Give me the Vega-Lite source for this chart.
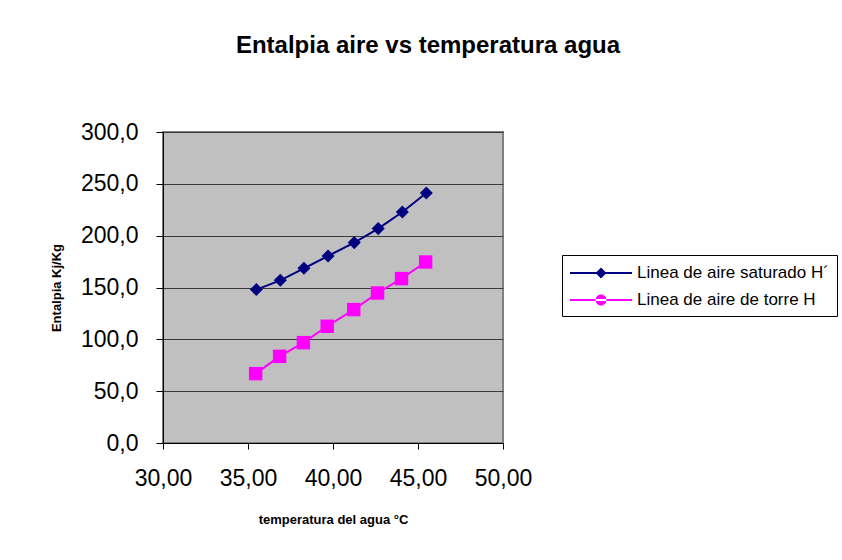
{
  "$schema": "https://vega.github.io/schema/vega-lite/v6.json",
  "width": 340,
  "height": 311,
  "autosize": {"type": "none"},
  "padding": {"left": 163, "top": 132, "right": 339, "bottom": 117},
  "background": "white",
  "title": {
    "text": "Entalpia aire vs temperatura agua",
    "font": "Liberation Sans",
    "fontSize": 24,
    "fontWeight": "bold",
    "color": "black",
    "anchor": "middle",
    "frame": "group",
    "dx": 95,
    "baseline": "alphabetic",
    "offset": 44
  },
  "config": {
    "view": {"fill": "#C0C0C0", "stroke": "#808080", "strokeWidth": 2},
    "font": "Liberation Sans"
  },
  "data": {
    "values": [
      {"serie": "Linea de aire saturado H´", "t": 35.49, "h": 148.0},
      {"serie": "Linea de aire saturado H´", "t": 36.90, "h": 156.9},
      {"serie": "Linea de aire saturado H´", "t": 38.29, "h": 168.5},
      {"serie": "Linea de aire saturado H´", "t": 39.71, "h": 180.4},
      {"serie": "Linea de aire saturado H´", "t": 41.25, "h": 193.3},
      {"serie": "Linea de aire saturado H´", "t": 42.66, "h": 206.8},
      {"serie": "Linea de aire saturado H´", "t": 44.08, "h": 222.8},
      {"serie": "Linea de aire saturado H´", "t": 45.49, "h": 241.1},
      {"serie": "Linea de aire de torre  H", "t": 35.45, "h": 66.9},
      {"serie": "Linea de aire de torre  H", "t": 36.86, "h": 83.6},
      {"serie": "Linea de aire de torre  H", "t": 38.26, "h": 96.8},
      {"serie": "Linea de aire de torre  H", "t": 39.66, "h": 112.6},
      {"serie": "Linea de aire de torre  H", "t": 41.22, "h": 128.7},
      {"serie": "Linea de aire de torre  H", "t": 42.62, "h": 144.7},
      {"serie": "Linea de aire de torre  H", "t": 44.03, "h": 158.6},
      {"serie": "Linea de aire de torre  H", "t": 45.45, "h": 174.6}
    ]
  },
  "encoding": {
    "x": {
      "field": "t",
      "type": "quantitative",
      "scale": {"domain": [30, 50], "nice": false, "zero": false},
      "axis": {
        "title": "temperatura del agua °C",
        "titleFont": "Liberation Sans",
        "titleFontSize": 13,
        "titleFontWeight": "bold",
        "titleColor": "black",
        "titlePadding": 23,
        "values": [30, 35, 40, 45, 50],
        "labelExpr": "replace(format(datum.value, '.2f'), '.', ',')",
        "labelFont": "Liberation Sans",
        "labelFontSize": 23,
        "labelColor": "black",
        "labelPadding": 18,
        "labelFlush": false,
        "labelOverlap": false,
        "tickColor": "black",
        "tickSize": 6,
        "domainColor": "black",
        "domainWidth": 1,
        "grid": false
      }
    },
    "y": {
      "field": "h",
      "type": "quantitative",
      "scale": {"domain": [0, 300], "nice": false},
      "axis": {
        "title": "Entalpia Kj/Kg",
        "titleFont": "Liberation Sans",
        "titleFontSize": 13,
        "titleFontWeight": "bold",
        "titleColor": "black",
        "titlePadding": 17,
        "values": [0, 50, 100, 150, 200, 250, 300],
        "labelExpr": "replace(format(datum.value, '.1f'), '.', ',')",
        "labelFont": "Liberation Sans",
        "labelFontSize": 23,
        "labelColor": "black",
        "labelPadding": 18,
        "labelFlush": false,
        "labelOverlap": false,
        "tickColor": "black",
        "tickSize": 7,
        "domainColor": "black",
        "domainWidth": 1,
        "grid": true,
        "gridColor": "#3a3a3a",
        "gridWidth": 1,
        "gridOpacity": 1
      }
    },
    "color": {
      "field": "serie",
      "type": "nominal",
      "scale": {
        "domain": ["Linea de aire saturado H´", "Linea de aire de torre  H"],
        "range": ["#000080", "#FF00FF"]
      },
      "legend": {
        "title": null,
        "orient": "none",
        "legendX": 399,
        "legendY": 123,
        "direction": "vertical",
        "strokeColor": "black",
        "fillColor": "white",
        "padding": 8,
        "rowPadding": 9,
        "labelFont": "Liberation Sans",
        "labelFontSize": 17,
        "labelColor": "black",
        "labelLimit": 300,
        "labelOffset": 47,
        "symbolSize": 400,
        "symbolStrokeWidth": 0,
        "symbolOpacity": 1,
        "encode": {
          "symbols": {
            "update": {
              "shape": {"signal": "datum.value === 'Linea de aire saturado H´' ? 'M-1,-0.1L5.2,-0.1L5.2,0.1L-1,0.1Z M2.1,-0.55L2.65,0L2.1,0.55L1.55,0Z' : 'M-1,-0.1L5.2,-0.1L5.2,0.1L-1,0.1Z M1.55,0A0.55,0.55 0 1,0 2.65,0A0.55,0.55 0 1,0 1.55,0Z'"},
              "fill": {"signal": "datum.value === 'Linea de aire saturado H´' ? '#000080' : '#FF00FF'"},
              "fillOpacity": {"value": 1},
              "strokeWidth": {"value": 0}
            }
          }
        }
      }
    }
  },
  "layer": [
    {
      "mark": {"type": "line", "strokeWidth": 2}
    },
    {
      "transform": [{"filter": "datum.serie === 'Linea de aire saturado H´'"}],
      "mark": {"type": "point", "shape": "diamond", "filled": true, "opacity": 1, "size": 170}
    },
    {
      "transform": [{"filter": "datum.serie === 'Linea de aire de torre  H'"}],
      "mark": {"type": "point", "shape": "square", "filled": true, "opacity": 1, "size": 180}
    }
  ]
}
